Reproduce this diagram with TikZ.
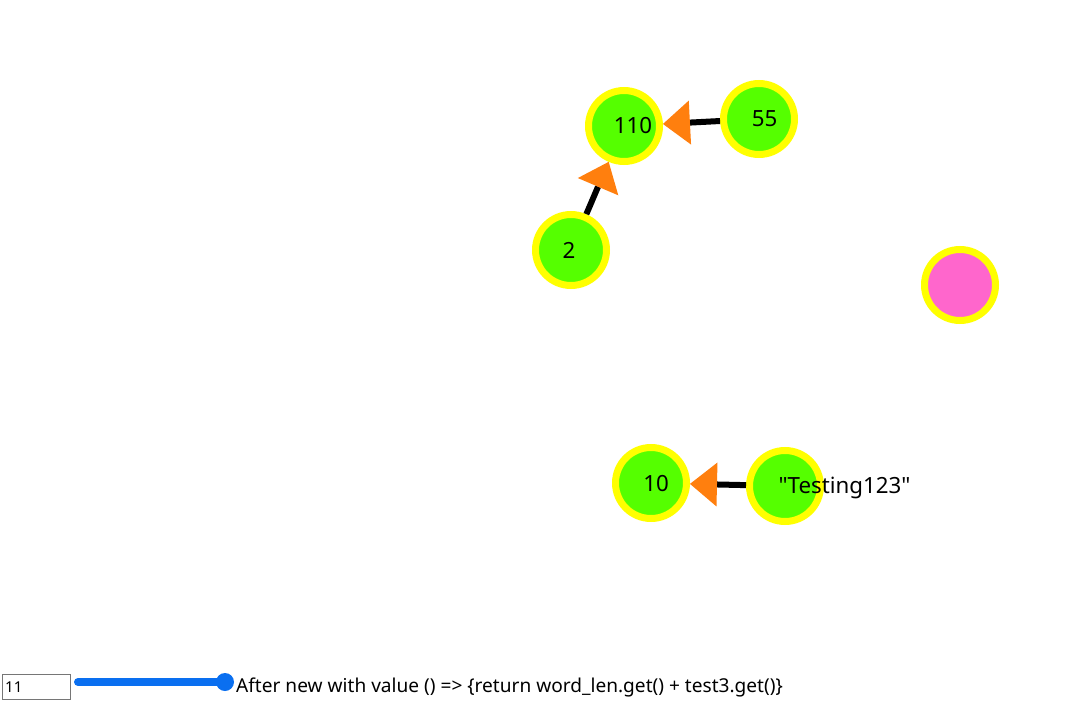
\documentclass[tikz,border=0pt]{standalone}
\usepackage{fontspec}
\setmainfont{Noto Sans}
\usetikzlibrary{arrows.meta}
\definecolor{nodegreen}{HTML}{55FF00}
\definecolor{nodeyellow}{HTML}{FFFF00}
\definecolor{nodepink}{HTML}{FF66CC}
\definecolor{arroworange}{HTML}{FF7F0E}
\definecolor{sliderblue}{HTML}{0A6FF0}
\definecolor{boxgray}{HTML}{767676}
\begin{document}
\begin{tikzpicture}[x=1pt,y=-1pt,
  vnode/.style={circle, draw=nodeyellow, line width=7pt, fill=nodegreen, minimum size=71pt, inner sep=0pt},
  link/.style={line width=6pt, draw=black, -{Triangle[length=27pt,width=44pt,line width=0pt,color=arroworange]}},
  lbl/.style={anchor=base, inner sep=0pt, font=\fontsize{22.3}{22}\selectfont, text=black}]
\fill[white] (0,0) rectangle (1085,709);
\useasboundingbox (0,0) rectangle (1085,709);
% nodes
\node[vnode] (n110) at (624,126) {};
\node[vnode] (n55) at (759,119) {};
\node[vnode] (n2) at (571,250) {};
\node[vnode, fill=nodepink] (npink) at (960,285) {};
\node[vnode] (n10) at (651,483) {};
\node[vnode] (ntest) at (785,486) {};
% edges
\draw[link] (n55) -- (n110);
\draw[link] (n2) -- (n110);
\draw[link] (ntest) -- (n10);
% labels
\node[lbl] (l110) at (633,133) {110};
\node[lbl] (l55) at (764.5,126) {55};
\node[lbl] (l2) at (569,258) {2};
\node[lbl] (l10) at (656,491.5) {10};
\node[lbl] (ltest) at (844.5,493) {\textquotedbl Testing123\textquotedbl};
% bottom controls
\node[draw=boxgray, line width=1pt, fill=white, minimum width=68pt, minimum height=25pt, inner sep=0pt, anchor=north west] (inbox) at (1.5,674) {};
\node[anchor=base west, inner sep=0pt, font=\fontsize{15}{15}\selectfont] (inval) at (5,692) {11};
\coordinate (sl0) at (78,682);
\coordinate (sl1) at (225,682);
\draw[sliderblue, line width=8pt, line cap=round] (sl0) -- (sl1);
\node[circle, fill=sliderblue, minimum size=18pt, inner sep=0pt] (knob) at (sl1) {};
\node[anchor=base west, inner sep=0pt, font=\fontsize{19.1}{19}\selectfont] (caption) at (236,692) {After new with value () => \{return word\_len.get() + test3.get()\}};
\end{tikzpicture}
\end{document}
